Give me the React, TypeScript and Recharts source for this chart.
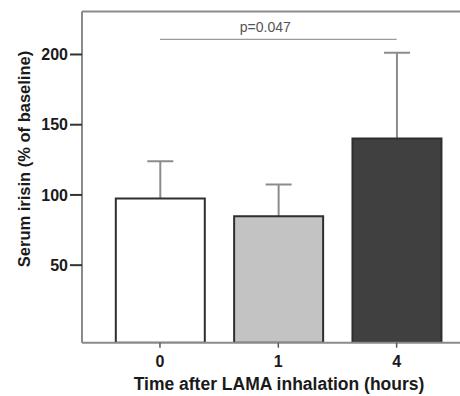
import { BarChart, Bar, XAxis, YAxis, Cell, ReferenceLine, Label } from 'recharts'

// hours after LAMA inhalation
const timepoints = ['0', '1', '4']
// serum irisin, % of baseline (mean, upper SD)
const meanIrisin = [97.4, 84.8, 140.1]
const sdUpper = [26.5, 22.6, 61.1]
const yTicks = [50, 100, 150, 200]
const pValueText = 'p=0.047'
const bracketLevel = 210.7

const Y_MIN = -5.2
const Y_MAX = 230.6
const BAR_SIZE = 89
const CAP_HALF = 13
const barFills = ['#ffffff', '#c3c3c3', '#404040']
const FONT = '"Liberation Sans", Arial, Helvetica, sans-serif'
const AXIS_GRAY = '#8a8a8a'

const data = timepoints.map((time, i) => ({
  time,
  range: [Y_MIN, meanIrisin[i]],
  whisker: [meanIrisin[i], meanIrisin[i] + sdUpper[i]],
}))

// upper-only SD whisker, sized from the bar geometry recharts hands us
const Whisker = (props: any) => {
  const { x, y, width, height } = props
  if (x == null || y == null) return null
  const cx = x + width / 2
  return (
    <g stroke="#8c8c8c" strokeWidth={2}>
      <line x1={cx} x2={cx} y1={y} y2={y + height} />
      <line x1={cx - CAP_HALF} x2={cx + CAP_HALF} y1={y} y2={y} />
    </g>
  )
}

const XTitle = () => (
  <text x={279} y={389.5} textAnchor="middle" fill="#1a1a1a"
    fontSize={17.5} fontWeight={700} fontFamily={FONT}>
    Time after LAMA inhalation (hours)
  </text>
)

const YTitle = () => (
  <text x={30} y={159} transform="rotate(-90 30 159)" textAnchor="middle"
    fill="#1a1a1a" fontSize={16.5} fontWeight={700} fontFamily={FONT}>
    Serum irisin (% of baseline)
  </text>
)

export default function App() {
  return (
    <div style={{ position: 'fixed', top: 0, left: 0, width: 460, height: 396, overflow: 'hidden', background: '#fff' }}>
      <BarChart
        width={490}
        height={396}
        data={data}
        margin={{ top: 11.5, right: 15.4, bottom: 0, left: 0 }}
        barSize={BAR_SIZE}
        barGap={-BAR_SIZE}
      >
        <XAxis
          dataKey="time"
          height={53.3}
          padding={{ left: 18.8, right: 18.8 }}
          axisLine={{ stroke: AXIS_GRAY, strokeWidth: 2 }}
          tickLine={{ stroke: '#555', strokeWidth: 1.5 }}
          tickSize={5}
          tickMargin={7.6}
          tick={{ fill: '#1a1a1a', fontSize: 16, fontWeight: 700, fontFamily: FONT }}
        >
          <Label content={XTitle} />
        </XAxis>
        <YAxis
          type="number"
          domain={[Y_MIN, Y_MAX]}
          ticks={yTicks}
          allowDataOverflow
          width={82}
          axisLine={{ stroke: AXIS_GRAY, strokeWidth: 2 }}
          tickLine={{ stroke: '#333', strokeWidth: 2 }}
          tickSize={12}
          tickMargin={2}
          tick={{ fill: '#1a1a1a', fontSize: 16, fontWeight: 700, fontFamily: FONT }}
        >
          <Label content={YTitle} />
        </YAxis>
        <ReferenceLine y={Y_MAX} stroke={AXIS_GRAY} strokeWidth={2} />
        <ReferenceLine
          segment={[{ x: '0', y: bracketLevel }, { x: '4', y: bracketLevel }]}
          stroke="#9a9a9a"
          strokeWidth={1.2}
          label={{ value: pValueText, position: 'top', offset: 7.5, dx: -13, fill: '#555', fontSize: 14, fontFamily: FONT }}
        />
        <Bar dataKey="whisker" isAnimationActive={false} shape={Whisker} />
        <Bar dataKey="range" isAnimationActive={false} stroke="#2e2e2e" strokeWidth={2}>
          {data.map((d, i) => (
            <Cell key={d.time} fill={barFills[i]} />
          ))}
        </Bar>
      </BarChart>
    </div>
  )
}
